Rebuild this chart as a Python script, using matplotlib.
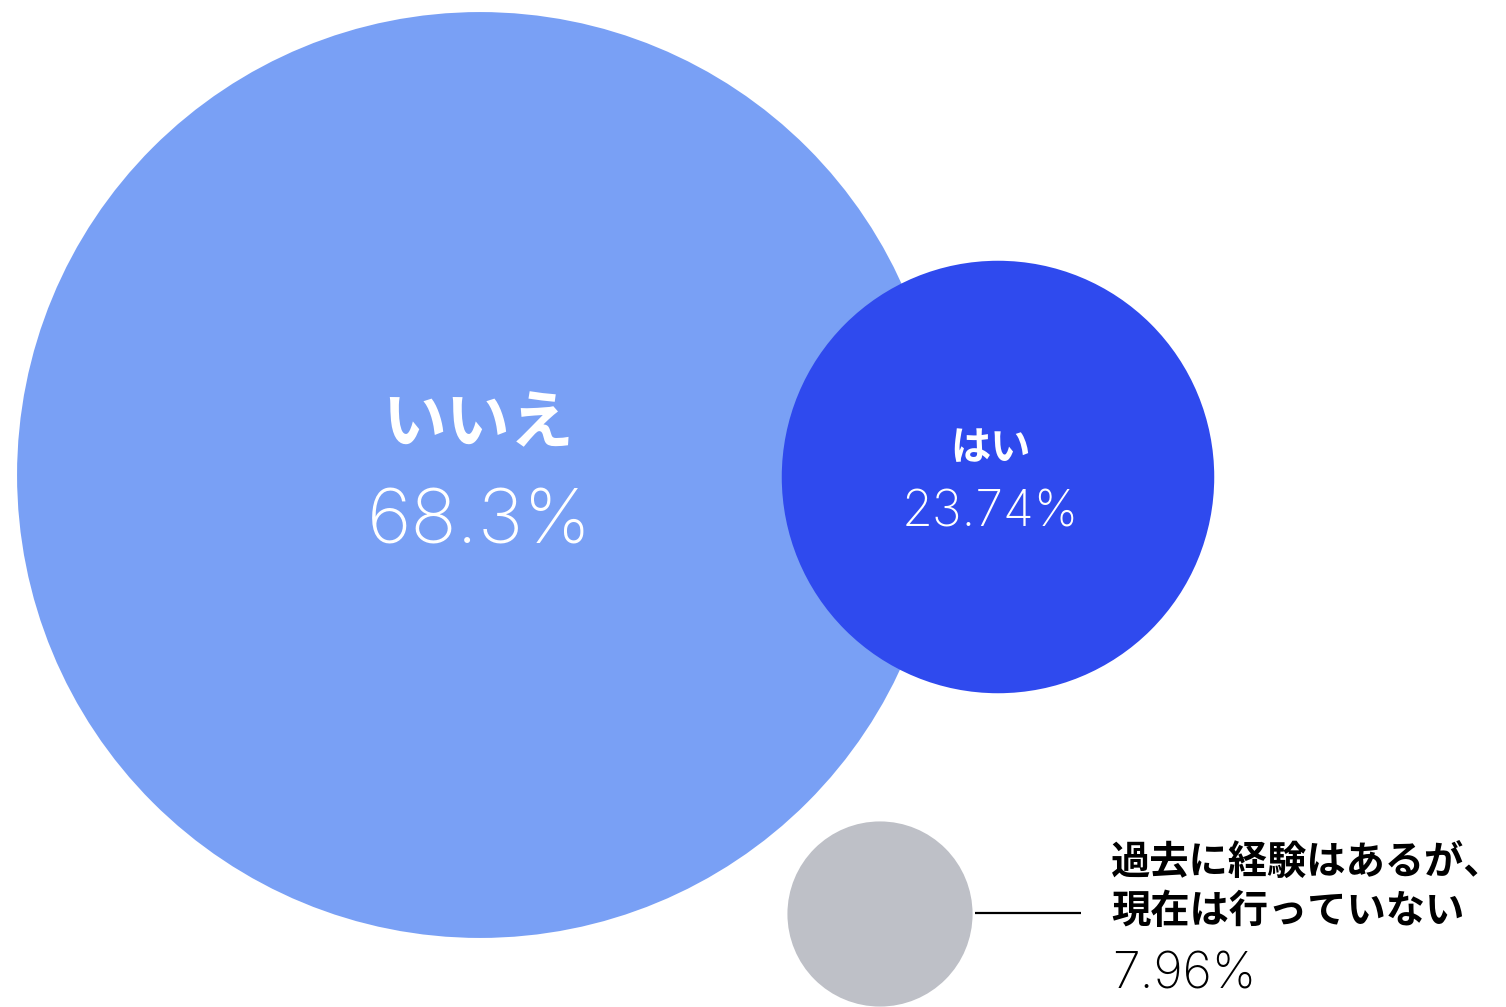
import matplotlib
matplotlib.use("Agg")
import matplotlib.pyplot as plt
from matplotlib.patches import Circle

# Data
categories = ["いいえ", "はい", "過去に経験はあるが、\n現在は行っていない"]
values = [68.3, 23.74, 7.96]
value_labels = ["68.3%", "23.74%", "7.96%"]

# Layout (pixel coordinates, y downward)
centers = [(480, 475), (998, 477), (880, 914)]
colors = ["#79A0F5", "#2F4AEE", "#BEC0C7"]
scale_a, scale_p, scale_b = 27.95, 0.675, -20.8


def radius(v):
    return scale_a * v ** scale_p + scale_b


W, H = 1506, 1007
fig = plt.figure(figsize=(W / 100, H / 100), dpi=100)
ax = fig.add_axes([0, 0, 1, 1])
ax.set_xlim(0, W)
ax.set_ylim(H, 0)
ax.set_aspect("equal")
ax.axis("off")

for (cx, cy), v, c in zip(centers, values, colors):
    ax.add_patch(Circle((cx, cy), radius(v), color=c, lw=0))

jp = ["Noto Sans CJK JP", "DejaVu Sans"]
num = ["Inter", "DejaVu Sans"]

# いいえ
ax.text(centers[0][0] - 2, 424, categories[0], family=jp, weight="bold",
        fontsize=46, color="white", ha="center", va="center")
ax.text(centers[0][0], 524, value_labels[0], family=num, weight="light",
        fontsize=55, color="white", ha="center", va="center")

# はい
ax.text(centers[1][0] - 7, 449, categories[1], family=jp, weight="bold",
        fontsize=29, color="white", ha="center", va="center")
ax.text(centers[1][0] - 8, 513, value_labels[1], family=num, weight="light",
        fontsize=36, color="white", ha="center", va="center")

# third (outside label with leader line)
ax.plot([975, 1081], [913, 913], color="black", lw=1.6, solid_capstyle="butt")
ax.text(1111, 887, categories[2], family=jp, weight="bold",
        fontsize=28.3, color="black", ha="left", va="center", linespacing=1.26)
ax.text(1112, 975, value_labels[2], family=num, weight="light",
        fontsize=36, color="black", ha="left", va="center")

fig.savefig("out.png", dpi=100, facecolor="white")
